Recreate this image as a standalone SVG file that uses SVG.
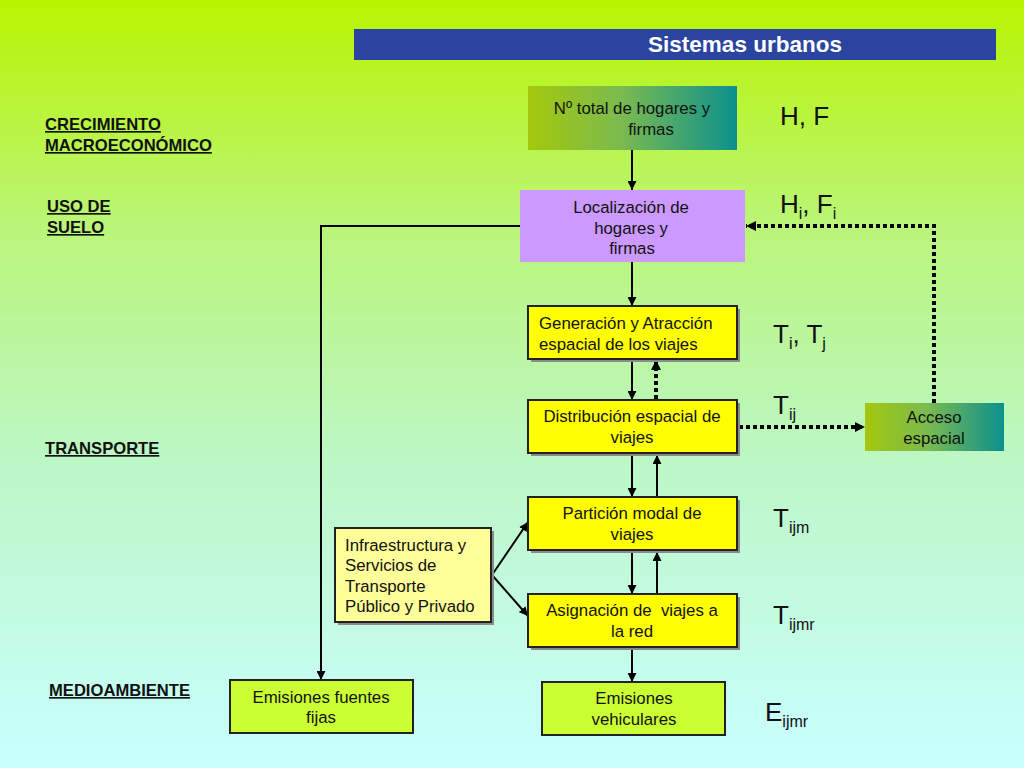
<svg xmlns="http://www.w3.org/2000/svg" width="1024" height="768" viewBox="0 0 1024 768">
<defs>
<linearGradient id="bg" x1="0" y1="0" x2="0" y2="1">
<stop offset="0" stop-color="#b8f400"/>
<stop offset="0.3" stop-color="#baf57a"/>
<stop offset="0.6" stop-color="#bcf7c6"/>
<stop offset="1" stop-color="#c9ffff"/>
</linearGradient>
<linearGradient id="gt" x1="0" y1="0" x2="1" y2="0">
<stop offset="0" stop-color="#a4c80c"/>
<stop offset="0.45" stop-color="#7aba50"/>
<stop offset="1" stop-color="#0c908e"/>
</linearGradient>
<marker id="ah" viewBox="0 0 10 10" refX="10" refY="5" markerWidth="9" markerHeight="9" markerUnits="userSpaceOnUse" orient="auto">
<path d="M0,0 L10,5 L0,10 z" fill="#000"/>
</marker>
<marker id="ahd" viewBox="0 0 10 10" refX="10" refY="5" markerWidth="10" markerHeight="10" markerUnits="userSpaceOnUse" orient="auto">
<path d="M0,0 L10,5 L0,10 z" fill="#000"/>
</marker>
</defs>
<style>
text{font-family:"Liberation Sans",Arial,sans-serif;fill:#111}
.t{font-size:16.8px}
.c{text-anchor:middle}
.lab{font-size:16.6px;font-weight:bold;text-decoration:underline}
.var{font-size:26px}
.sub{font-size:16px}
.yb{fill:#ffff00;stroke:#222;stroke-width:2}
.ly{fill:#ffff99;stroke:#222;stroke-width:2}
.gb{fill:#ccff33;stroke:#222;stroke-width:2}
.sh{fill:#8a8a8a}
.ln{stroke:#000;stroke-width:2;fill:none;marker-end:url(#ah)}
.dt{stroke:#000;stroke-width:4;fill:none;stroke-dasharray:4 3;marker-end:url(#ahd)}
</style>
<rect width="1024" height="768" fill="url(#bg)"/>

<g id="title">
<rect x="354" y="29" width="642" height="31" fill="#2a44a0"/>
<text x="745" y="52" class="c" style="font-size:22.5px;font-weight:bold;fill:#fff">Sistemas urbanos</text>
</g>

<g id="labels">
<text x="45" y="130" class="lab">CRECIMIENTO</text>
<text x="45" y="151" class="lab">MACROECONÓMICO</text>
<text x="47" y="212" class="lab">USO DE</text>
<text x="47" y="233" class="lab">SUELO</text>
<text x="45" y="454" class="lab">TRANSPORTE</text>
<text x="49" y="696" class="lab">MEDIOAMBIENTE</text>
</g>

<g id="vars">
<text x="780" y="125" class="var">H, F</text>
<text x="780" y="213" class="var">H<tspan class="sub" dy="6">i</tspan><tspan dy="-6">, F</tspan><tspan class="sub" dy="6">i</tspan></text>
<text x="773" y="343" class="var">T<tspan class="sub" dy="6">i</tspan><tspan dy="-6">, T</tspan><tspan class="sub" dy="6">j</tspan></text>
<text x="773" y="414" class="var">T<tspan class="sub" dy="6">ij</tspan></text>
<text x="773" y="527" class="var">T<tspan class="sub" dy="6">ijm</tspan></text>
<text x="773" y="624" class="var">T<tspan class="sub" dy="6">ijmr</tspan></text>
<text x="765" y="721" class="var">E<tspan class="sub" dy="6">ijmr</tspan></text>
</g>

<g id="connectors">
<line x1="632" y1="150" x2="632" y2="190" class="ln"/>
<line x1="632" y1="262" x2="632" y2="306" class="ln"/>
<line x1="632" y1="360" x2="632" y2="400" class="ln"/>
<line x1="656" y1="399" x2="656" y2="360" class="dt"/>
<line x1="632" y1="454" x2="632" y2="497" class="ln"/>
<line x1="657" y1="497" x2="657" y2="455" class="ln"/>
<line x1="632" y1="551" x2="632" y2="594" class="ln"/>
<line x1="657" y1="594" x2="657" y2="552" class="ln"/>
<line x1="632" y1="648" x2="632" y2="682" class="ln"/>
<line x1="492" y1="575" x2="528" y2="522" class="ln"/>
<line x1="492" y1="575" x2="528" y2="616" class="ln"/>
<polyline points="520,226 321,226 321,680" class="ln"/>
<line x1="739" y1="427" x2="865" y2="427" class="dt"/>
<polyline points="934,403 934,226 746,226" class="dt"/>
</g>

<g id="n-total">
<rect x="528" y="86" width="209" height="64" fill="url(#gt)"/>
<text x="632" y="114" class="t c">Nº total de hogares y</text>
<text x="651" y="135" class="t c">firmas</text>
</g>

<g id="n-localizacion">
<rect x="520" y="190" width="225" height="72" fill="#cc99ff"/>
<text x="631" y="213" class="t c">Localización de</text>
<text x="631" y="234" class="t c">hogares y</text>
<text x="632" y="254" class="t c">firmas</text>
</g>

<g id="n-generacion">
<rect x="531" y="309" width="209" height="53" class="sh"/>
<rect x="528" y="306" width="209" height="53" class="yb"/>
<text x="539" y="329" class="t">Generación y Atracción</text>
<text x="539" y="350" class="t">espacial de los viajes</text>
</g>

<g id="n-distribucion">
<rect x="531" y="403" width="209" height="53" class="sh"/>
<rect x="528" y="400" width="209" height="53" class="yb"/>
<text x="632" y="422" class="t c">Distribución espacial de</text>
<text x="632" y="443" class="t c">viajes</text>
</g>

<g id="n-particion">
<rect x="531" y="500" width="209" height="53" class="sh"/>
<rect x="528" y="497" width="209" height="53" class="yb"/>
<text x="632" y="519" class="t c">Partición modal de</text>
<text x="632" y="540" class="t c">viajes</text>
</g>

<g id="n-asignacion">
<rect x="531" y="597" width="209" height="53" class="sh"/>
<rect x="528" y="594" width="209" height="53" class="yb"/>
<text x="632" y="616" class="t c" xml:space="preserve">Asignación de  viajes a</text>
<text x="632" y="637" class="t c">la red</text>
</g>

<g id="n-infraestructura">
<rect x="338" y="531" width="156" height="94" class="sh"/>
<rect x="335" y="528" width="156" height="94" class="ly"/>
<text x="345" y="551" class="t">Infraestructura y</text>
<text x="345" y="571" class="t">Servicios de</text>
<text x="345" y="592" class="t">Transporte</text>
<text x="345" y="612" class="t">Público y Privado</text>
</g>

<g id="n-fijas">
<rect x="230" y="680" width="183" height="53" class="gb"/>
<text x="321" y="703" class="t c">Emisiones fuentes</text>
<text x="321" y="723" class="t c">fijas</text>
</g>

<g id="n-vehiculares">
<rect x="542" y="682" width="183" height="53" class="gb"/>
<text x="634" y="704" class="t c">Emisiones</text>
<text x="634" y="725" class="t c">vehiculares</text>
</g>

<g id="n-acceso">
<rect x="865" y="403" width="139" height="48" fill="url(#gt)"/>
<text x="934" y="423" class="t c">Acceso</text>
<text x="934" y="444" class="t c">espacial</text>
</g>
</svg>
